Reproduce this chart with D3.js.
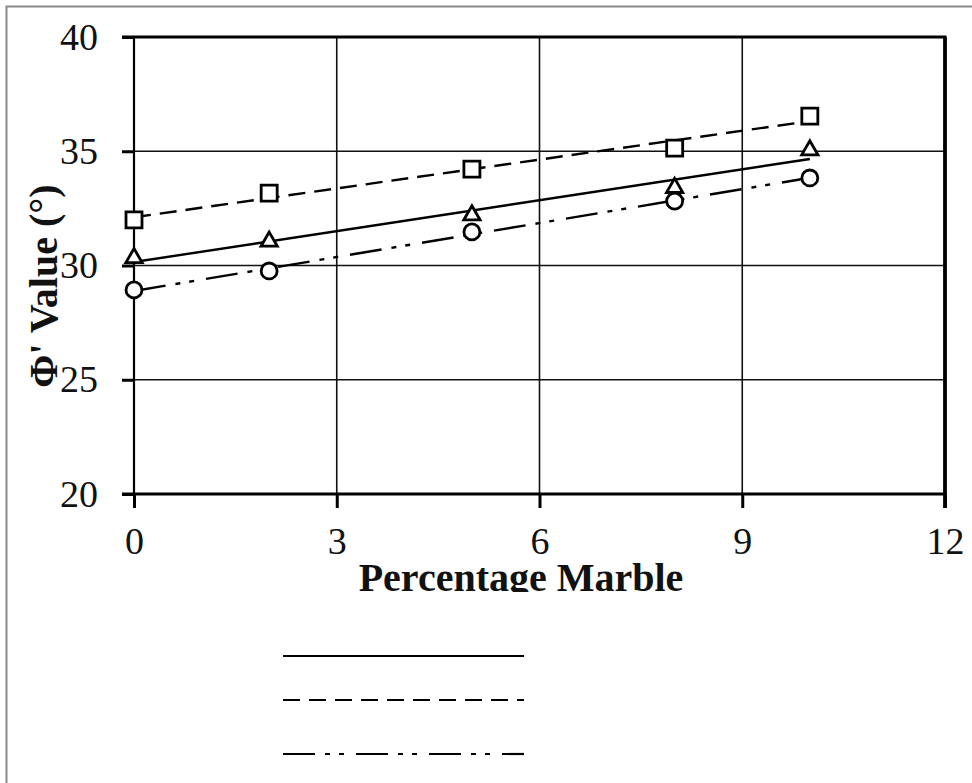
<!DOCTYPE html>
<html>
<head>
<meta charset="utf-8">
<script src="https://cdn.jsdelivr.net/npm/d3@7"></script>
<style>
  body { margin: 0; background: #fff; }
  svg { display: block; }
</style>
</head>
<body>
<div id="wrapper"></div>
<script>
// data
const marble = [0, 2, 5, 8, 10];
const phiTriangle = [30.33, 31.05, 32.2, 33.4, 35.05];
const phiSquare = [32.0, 33.17, 34.22, 35.14, 36.54];
const phiCircle = [28.93, 29.76, 31.47, 32.82, 33.83];
const xTicks = [0, 3, 6, 9, 12];
const yTicks = [20, 25, 30, 35, 40];

const series = [
  { values: phiTriangle, symbol: d3.symbolTriangle, size: 115, dash: null },
  { values: phiSquare, symbol: d3.symbolSquare, size: 256, dash: "17,9" },
  { values: phiCircle, symbol: d3.symbolCircle, size: 200, dash: "32,10,5,9,5,12" },
];

const width = 972;
const height = 783;
const margin = { top: 37, right: 27, bottom: 289, left: 134 };
const boundedWidth = width - margin.left - margin.right;
const boundedHeight = height - margin.top - margin.bottom;

const svg = d3.select("#wrapper")
  .append("svg")
    .attr("width", width)
    .attr("height", height);

// outer picture frame
svg.append("rect")
  .attr("x", 6.5).attr("y", 6.5)
  .attr("width", 1000).attr("height", 1000)
  .attr("fill", "none")
  .attr("stroke", "#8a8a8a")
  .attr("stroke-width", 2);

const bounds = svg.append("g")
  .attr("transform", `translate(${margin.left},${margin.top})`);

const xScale = d3.scaleLinear().domain([0, 12]).range([0, boundedWidth]);
const yScale = d3.scaleLinear().domain([20, 40]).range([boundedHeight, 0]);

// grid
bounds.append("g")
  .selectAll("line")
  .data(yTicks.filter(d => d > 20 && d < 40))
  .join("line")
    .attr("x1", 0).attr("x2", boundedWidth)
    .attr("y1", d => yScale(d)).attr("y2", d => yScale(d))
    .attr("stroke", "#111").attr("stroke-width", 1.6);

bounds.append("g")
  .selectAll("line")
  .data(xTicks.filter(d => d > 0 && d < 12))
  .join("line")
    .attr("x1", d => xScale(d)).attr("x2", d => xScale(d))
    .attr("y1", 0).attr("y2", boundedHeight)
    .attr("stroke", "#111").attr("stroke-width", 1.6);

// axes
const serif = "'Liberation Serif', 'Times New Roman', serif";

const yAxis = bounds.append("g")
  .call(d3.axisLeft(yScale).tickValues(yTicks).tickSize(12).tickPadding(24).tickSizeOuter(0));
yAxis.select(".domain").remove();
yAxis.selectAll(".tick line").attr("stroke", "#000").attr("stroke-width", 3);
yAxis.selectAll(".tick text")
  .attr("font-family", serif).attr("font-size", 38).attr("fill", "#111");

const xAxis = bounds.append("g")
  .attr("transform", `translate(0,${boundedHeight})`)
  .call(d3.axisBottom(xScale).tickValues(xTicks).tickSize(14).tickSizeOuter(0));
xAxis.select(".domain").remove();
xAxis.selectAll(".tick line").attr("stroke", "#000").attr("stroke-width", 3);
xAxis.selectAll(".tick text")
  .attr("y", 60).attr("dy", 0)
  .attr("font-family", serif).attr("font-size", 38).attr("fill", "#111");

// frame lines
bounds.append("line")
  .attr("x1", 0).attr("x2", 0).attr("y1", 0).attr("y2", boundedHeight)
  .attr("stroke", "#000").attr("stroke-width", 2.2);
bounds.append("line")
  .attr("x1", -12).attr("x2", boundedWidth + 1.5).attr("y1", 0).attr("y2", 0)
  .attr("stroke", "#000").attr("stroke-width", 3.2);
bounds.append("line")
  .attr("x1", -12).attr("x2", boundedWidth + 1.5).attr("y1", boundedHeight).attr("y2", boundedHeight)
  .attr("stroke", "#000").attr("stroke-width", 3.2);
bounds.append("line")
  .attr("x1", boundedWidth).attr("x2", boundedWidth).attr("y1", 0).attr("y2", boundedHeight + 14)
  .attr("stroke", "#000").attr("stroke-width", 3.8);

// least-squares trend line for each series
const fit = ys => {
  const mx = d3.mean(marble), my = d3.mean(ys);
  const sxy = d3.sum(marble, (x, i) => (x - mx) * (ys[i] - my));
  const sxx = d3.sum(marble, x => (x - mx) ** 2);
  const b = sxy / sxx;
  return x => my + b * (x - mx);
};

const lineGenerator = d3.line()
  .x(d => xScale(d[0]))
  .y(d => yScale(d[1]));

series.forEach(s => {
  const f = fit(s.values);
  const ends = d3.extent(marble);
  bounds.append("path")
    .attr("d", lineGenerator(ends.map(x => [x, f(x)])))
    .attr("fill", "none")
    .attr("stroke", "#000")
    .attr("stroke-width", 2.4)
    .attr("stroke-dasharray", s.dash);
});

series.forEach(s => {
  bounds.append("g")
    .selectAll("path")
    .data(marble.map((x, i) => [x, s.values[i]]))
    .join("path")
      .attr("transform", d => `translate(${xScale(d[0])},${yScale(d[1])})`)
      .attr("d", d3.symbol().type(s.symbol).size(s.size))
      .attr("fill", "#fff")
      .attr("stroke", "#000")
      .attr("stroke-width", 2.8);
});

// axis titles
svg.append("clipPath").attr("id", "cut")
  .append("rect").attr("x", 0).attr("y", 0).attr("width", width).attr("height", 592);

svg.append("text")
  .attr("clip-path", "url(#cut)")
  .attr("x", 521).attr("y", 591)
  .attr("text-anchor", "middle")
  .attr("font-family", serif).attr("font-weight", "bold")
  .attr("font-size", 40).attr("fill", "#111")
  .text("Percentage Marble");

svg.append("text")
  .attr("transform", "translate(57,286) rotate(-90)")
  .attr("text-anchor", "middle")
  .attr("font-family", serif).attr("font-weight", "bold")
  .attr("font-size", 40).attr("fill", "#111")
  .text("\u03A6' Value (\u00B0)");

// legend line samples (labels are not shown in the picture)
const legend = svg.append("g").attr("transform", "translate(283,656)");
legend.selectAll("line")
  .data(series)
  .join("line")
    .attr("x1", 0).attr("x2", 241)
    .attr("y1", (d, i) => [0, 44, 98][i])
    .attr("y2", (d, i) => [0, 44, 98][i])
    .attr("stroke", "#000")
    .attr("stroke-width", 2.2)
    .attr("stroke-dasharray", d => d.dash);
</script>
</body>
</html>
